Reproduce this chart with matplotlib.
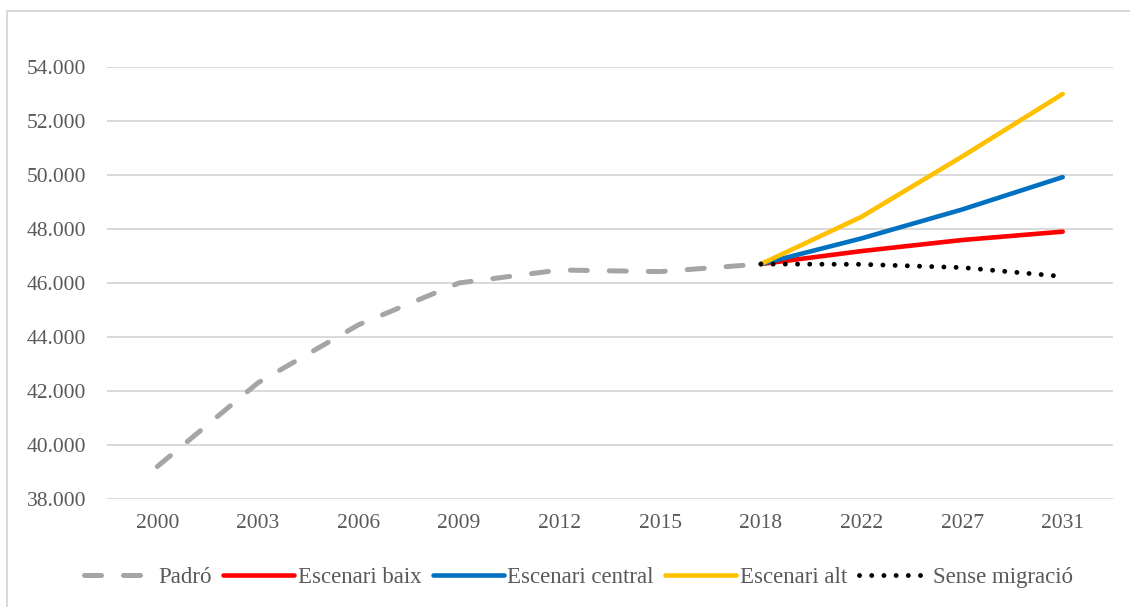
import numpy as np
import matplotlib
matplotlib.use("Agg")
import matplotlib.pyplot as plt
from matplotlib.ticker import FuncFormatter
from matplotlib.lines import Line2D

# dades
anys = ['2000', '2003', '2006', '2009', '2012', '2015', '2018', '2022', '2027', '2031']
nan = np.nan
padro = [39200, 42300, 44450, 46000, 46480, 46420, 46700, nan, nan, nan]
esc_baix = [nan, nan, nan, nan, nan, nan, 46700, 47180, 47590, 47900]
esc_central = [nan, nan, nan, nan, nan, nan, 46700, 47650, 48720, 49920]
esc_alt = [nan, nan, nan, nan, nan, nan, 46700, 48450, 50680, 53000]
sense_migracio = [nan, nan, nan, nan, nan, nan, 46700, 46690, 46570, 46240]

plt.rcParams['font.family'] = ['Liberation Serif', 'DejaVu Serif']
gris_text = '#595959'
gris_grid = '#d9d9d9'

fig = plt.figure(figsize=(11.3, 6.07), dpi=100)
ax = fig.add_axes([107 / 1130, 0.178, 1006 / 1130, 0.7117])

x = np.arange(len(anys))

l1, = ax.plot(x, padro, color='#a5a5a5', lw=3.6, dashes=(3.4, 4.4),
              dash_capstyle='round', label='Padró')
l2, = ax.plot(x, esc_baix, color='#ff0000', lw=3.3, solid_capstyle='round',
              label='Escenari baix')
l3, = ax.plot(x, esc_central, color='#0070c0', lw=3.3, solid_capstyle='round',
              label='Escenari central')
l4, = ax.plot(x, esc_alt, color='#ffc000', lw=3.3, solid_capstyle='round',
              label='Escenari alt')
l5, = ax.plot(x, sense_migracio, color='black', lw=3.5, dashes=(0.01, 2.5),
              dash_capstyle='round', label='Sense migració')

ax.set_xlim(-0.5, len(anys) - 0.5)
ax.set_ylim(38000, 54000)
ax.set_yticks(np.arange(38000, 54001, 2000))
ax.yaxis.set_major_formatter(FuncFormatter(lambda v, p: f'{int(v):,}'.replace(',', '.')))
ax.set_xticks(x)
ax.set_xticklabels(anys)

ax.grid(axis='y', color=gris_grid, lw=1.4)
ax.set_axisbelow(True)
for s in ax.spines.values():
    s.set_visible(False)
ax.tick_params(axis='both', length=0, labelsize=15.5, colors=gris_text)
ax.tick_params(axis='y', pad=15)
ax.tick_params(axis='x', pad=11)

leg = fig.legend(handles=[l1, l2, l3, l4, l5], loc='center', bbox_to_anchor=(0.512, 0.049),
                 ncol=5, frameon=False, fontsize=16.5, handlelength=3.1,
                 handletextpad=0.15, columnspacing=0.5, borderaxespad=0)
for t in leg.get_texts():
    t.set_color(gris_text)

# marc del gràfic
fig.add_artist(Line2D([7 / 1130, 7 / 1130], [0, 1 - 11 / 607], transform=fig.transFigure,
                      color=gris_grid, lw=1.4))
fig.add_artist(Line2D([7 / 1130, 1], [1 - 11 / 607, 1 - 11 / 607], transform=fig.transFigure,
                      color=gris_grid, lw=1.4))

fig.savefig('out.png', dpi=100)
